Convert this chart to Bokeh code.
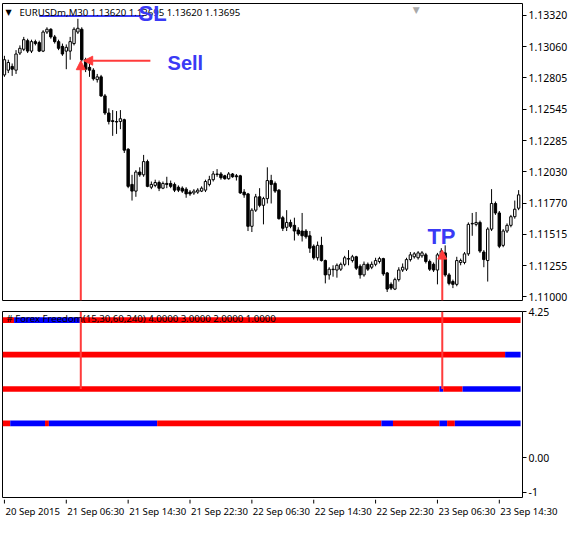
from bokeh.plotting import figure
from bokeh.layouts import column
from bokeh.models import (Range1d, FixedTicker, PrintfTickFormatter, Label, Arrow,
                          NormalHead, ColumnDataSource)
from bokeh.core.properties import value
from bokeh.embed import file_html
from bokeh.resources import INLINE

# ---------------- data (prices in points, 1 point = 0.00001) ----------------
opens_pts = [112827,112866,112897,112866,113007,113038,113109,113023,113101,113093,
             113023,113180,113203,113140,113101,113062,113023,113023,113085,113180,
             113203,112952,112889,112866,112788,112811,112654,112513,112450,112443,
             112443,112458,112215,111925,111870,112027,112004,112113,111902,111917,
             111941,111894,111933,111933,111925,111902,111894,111886,111862,111855,
             111862,111870,111878,111925,111964,112011,112011,111996,111972,112011,
             111996,111996,111862,111847,111580,111713,111823,111753,111808,111957,
             111933,111878,111651,111572,111612,111588,111549,111541,111541,111502,
             111416,111321,111423,111298,111180,111227,111220,111227,111267,111314,
             111298,111329,111251,111180,111267,111243,111267,111290,111314,111196,
             111102,111063,111141,111220,111227,111306,111329,111321,111337,111345,
             111290,111267,111220,111345,111361,111180,111125,111102,111282,111282,
             111353,111604,111596,111612,111368,111298,111557,111768,111690,111423,
             111541,111588,111659,111729]
highs_pts = [112984,112952,112921,113031,113070,113140,113125,113117,113117,113109,
             113195,113219,113211,113156,113117,113085,113078,113140,113219,113289,
             113219,112968,112921,112882,112835,112827,112670,112552,112537,112529,
             112537,112466,112223,112004,112043,112066,112168,112129,111949,111964,
             111957,111949,111988,111957,111941,111917,111909,111902,111878,111886,
             111894,111909,111964,111996,112035,112051,112027,112004,112027,112019,
             112011,112004,111886,111855,111729,111847,111894,111823,112066,112004,
             111949,111886,111666,111713,111635,111651,111572,111690,111557,111541,
             111431,111455,111494,111306,111243,111259,111274,111282,111337,111384,
             111345,111337,111267,111290,111282,111290,111321,111329,111321,111204,
             111118,111157,111243,111274,111321,111368,111368,111376,111376,111361,
             111306,111282,111361,111400,111423,111196,111141,111329,111314,111368,
             111612,111690,111698,111627,111384,111572,111886,111784,111706,111557,
             111604,111674,111792,111878]
lows_pts = [112811,112842,112819,112835,112991,113023,113007,113007,113070,113015,
            113015,113164,113125,113085,113031,112984,112874,112952,113070,113164,
            112936,112850,112811,112780,112764,112646,112497,112419,112325,112341,
            112380,112184,111894,111792,111823,111988,111988,111902,111886,111902,
            111870,111886,111894,111894,111862,111862,111855,111815,111831,111839,
            111847,111862,111862,111909,111949,111988,111964,111964,111964,111980,
            111957,111847,111815,111541,111533,111698,111737,111596,111768,111768,
            111855,111635,111541,111541,111564,111463,111502,111455,111478,111361,
            111306,111298,111290,111110,111141,111165,111157,111212,111251,111259,
            111282,111220,111149,111165,111212,111227,111251,111274,111172,111039,
            111055,111055,111125,111204,111212,111290,111314,111306,111321,111274,
            111212,111204,111102,111329,111165,111094,111071,111086,111259,111267,
            111337,111502,111580,111361,111243,111125,111541,111674,111400,111408,
            111525,111572,111643,111713]
closes_pts = [112952,112929,112874,112999,113046,113117,113023,113101,113085,113023,
              113180,113203,113140,113101,113046,112999,113054,113101,113203,113211,
              112952,112874,112866,112795,112811,112654,112513,112443,112443,112439,
              112466,112207,111909,111870,112027,112004,112113,111909,111925,111941,
              111894,111933,111925,111909,111878,111878,111870,111847,111847,111870,
              111878,111894,111949,111964,112011,112007,111980,111972,112011,111988,
              111988,111855,111839,111580,111713,111823,111753,111808,111957,111925,
              111870,111643,111564,111612,111580,111541,111517,111502,111494,111400,
              111321,111423,111298,111180,111227,111223,111259,111267,111321,111310,
              111329,111235,111180,111267,111227,111267,111298,111314,111188,111063,
              111071,111141,111220,111243,111306,111345,111353,111361,111361,111290,
              111227,111220,111345,111376,111180,111110,111102,111298,111298,111353,
              111596,111600,111612,111376,111306,111557,111768,111690,111416,111541,
              111588,111659,111721,111839]

price_ticks = [1.11000, 1.11255, 1.11515, 1.11770, 1.12030, 1.12285, 1.12545, 1.12805, 1.13060, 1.13320]
time_tick_bars = [0, 16, 32, 48, 64, 80, 96, 112, 128]
time_tick_labels = ["20 Sep 2015", "21 Sep 06:30", "21 Sep 14:30", "21 Sep 22:30", "22 Sep 06:30",
                    "22 Sep 14:30", "22 Sep 22:30", "23 Sep 06:30", "23 Sep 14:30"]

# Forex Freedom indicator: colour runs (colour, number of bars) on 4 levels
ind_levels = [4.0, 3.0, 2.0, 1.0]
ind_runs = [
    [("red", 3), ("blue", 17), ("red", 114)],
    [("red", 130), ("blue", 4)],
    [("red", 113), ("blue", 1), ("red", 5), ("blue", 15)],
    [("red", 2), ("blue", 9), ("red", 1), ("blue", 28), ("red", 58), ("blue", 3),
     ("red", 12), ("blue", 2), ("red", 2), ("blue", 17)],
]
ind_ticks = [-1, 0, 4.25]

# trade annotations
sell_bar, sell_price = 19.75, 1.12944
tp_bar, tp_price = 113.25, 1.11384
sl_price = 1.13313
title_text = "EURUSDm,M30  1.13620 1.13695 1.13620 1.13695"
ind_title = "# Forex Freedom(15,30,60,240) 4.0000 3.0000 2.0000 1.0000"

# ---------------- styling constants ----------------
FONT = "Noto Sans"
TICK_SIZE = "10.5px"
SMALL_SIZE = "9.6px"
RED_MT = "#ff0000"
BLUE_MT = "#0000ff"
ARROW_RED = "#ff3b3b"
TEXT_BLUE = "#3a3af5"
FRAME_W = 520
AXIS_W = 46

n = len(opens_pts)
xr = Range1d(-0.5, n)
px_per_bar = FRAME_W / (n + 0.5)
y_lo, y_hi = 1.10969, 1.13415

o = [v / 1e5 for v in opens_pts]
h = [v / 1e5 for v in highs_pts]
l = [v / 1e5 for v in lows_pts]
c = [v / 1e5 for v in closes_pts]
src = ColumnDataSource(dict(
    x=list(range(n)), h=h, l=l,
    top=[max(a, b) for a, b in zip(o, c)],
    bottom=[min(a, b) for a, b in zip(o, c)],
    fill=["white" if cc >= oo else "black" for oo, cc in zip(o, c)],
))


def style_axis(ax):
    ax.major_tick_out = 4
    ax.major_tick_in = 0
    ax.minor_tick_out = 0
    ax.minor_tick_in = 0
    ax.axis_line_color = None
    ax.major_tick_line_color = "black"
    ax.major_label_text_font = FONT
    ax.major_label_text_font_size = TICK_SIZE
    ax.major_label_text_color = "black"
    ax.major_label_standoff = 2


# ---------------- main price panel ----------------
p1 = figure(frame_width=FRAME_W, frame_height=297, x_range=xr, y_range=Range1d(y_lo, y_hi),
            x_axis_location=None, y_axis_location="right", toolbar_location=None,
            output_backend="svg", min_border_left=2, min_border_right=0,
            min_border_top=3, min_border_bottom=4)
p1.xgrid.visible = False
p1.ygrid.visible = False
p1.outline_line_color = "black"
p1.outline_line_width = 1
ya = p1.yaxis[0]
ya.ticker = FixedTicker(ticks=price_ticks)
ya.formatter = PrintfTickFormatter(format="%.5f")
style_axis(ya)

p1.segment(x0="x", y0="h", x1="x", y1="l", color="black", line_width=1, source=src)
p1.vbar(x="x", top="top", bottom="bottom", width=0.62, fill_color="fill",
        line_color="black", line_width=1, source=src)

# SL line and labels
p1.segment(x0=[9], y0=[sl_price], x1=[36], y1=[sl_price], line_color=TEXT_BLUE, line_width=2)
p1.add_layout(Label(x=-0.5, y=y_hi, x_offset=3, y_offset=-9, text="\u25bc", text_font="DejaVu Sans",
                    text_font_size="8px", text_color="black", text_baseline="middle"))
p1.add_layout(Label(x=-0.5, y=y_hi, x_offset=17, y_offset=-9, text=title_text, text_font=FONT,
                    text_font_size=SMALL_SIZE, text_color="black", text_baseline="middle"))
p1.add_layout(Label(x=106.5, y=y_hi, y_offset=-1, text="\u25bc", text_font="DejaVu Sans",
                    text_font_size="9px", text_color="#a8a8a8", text_baseline="top", text_align="center"))
p1.add_layout(Label(x=34.7, y=1.13329, text="SL", text_font="Liberation Sans", text_font_style="bold",
                    text_font_size="22px", text_color=TEXT_BLUE, text_baseline="middle"))
p1.add_layout(Label(x=42.2, y=1.12921, text="Sell", text_font="Liberation Sans", text_font_style="bold",
                    text_font_size="20px", text_color=TEXT_BLUE, text_baseline="middle"))
p1.add_layout(Label(x=109.4, y=1.11494, text="TP", text_font="Liberation Sans", text_font_style="bold",
                    text_font_size="22px", text_color=TEXT_BLUE, text_baseline="middle"))

# arrows
p1.add_layout(Arrow(end=NormalHead(size=9, fill_color=ARROW_RED, line_color=ARROW_RED),
                    x_start=37.75, y_start=sell_price, x_end=20.5, y_end=sell_price,
                    line_color=ARROW_RED, line_width=2))
p1.add_layout(Arrow(end=NormalHead(size=9, fill_color=ARROW_RED, line_color=ARROW_RED),
                    x_start=sell_bar, y_start=y_lo, x_end=sell_bar, y_end=sell_price,
                    line_color=ARROW_RED, line_width=2))
p1.add_layout(Arrow(end=NormalHead(size=9, fill_color=ARROW_RED, line_color=ARROW_RED),
                    x_start=tp_bar, y_start=y_lo, x_end=tp_bar, y_end=tp_price,
                    line_color=ARROW_RED, line_width=2))

# ---------------- indicator panel ----------------
p2 = figure(frame_width=FRAME_W, frame_height=186, x_range=xr, y_range=Range1d(-1.15, 4.25),
            x_axis_location=None, y_axis_location="right", toolbar_location=None,
            output_backend="svg", min_border_left=2, min_border_right=0,
            min_border_top=7, min_border_bottom=2)
p2.xgrid.visible = False
p2.ygrid.visible = False
p2.outline_line_color = "black"
p2.outline_line_width = 1
ya2 = p2.yaxis[0]
ya2.ticker = FixedTicker(ticks=ind_ticks)
ya2.major_label_overrides = {-1: "-1", 0: "0.00", 4.25: "4.25"}
style_axis(ya2)

for lev, runs in zip(ind_levels, ind_runs):
    start = 0
    lefts, rights, cols = [], [], []
    for col, cnt in runs:
        lefts.append(start - 0.5)
        rights.append(start + cnt - 0.5)
        cols.append(RED_MT if col == "red" else BLUE_MT)
        start += cnt
    p2.hbar(y=[lev] * len(cols), left=lefts, right=rights, height=0.165,
            fill_color=cols, line_color=None)

for xb in (sell_bar, tp_bar):
    p2.add_layout(Arrow(end=None, x_start=xb, y_start=4.25, x_end=xb, y_end=2.0,
                        line_color=ARROW_RED, line_width=2))

p2.add_layout(Label(x=-0.5, y=4.25, x_offset=4, y_offset=-7, text=ind_title, text_font=FONT,
                    text_font_size=SMALL_SIZE, text_color="black", text_baseline="middle"))

# ---------------- time axis strip (labels start at their tick, as in MT4) ----------------
strip_w = FRAME_W + AXIS_W
p3 = figure(frame_width=strip_w, frame_height=20,
            x_range=Range1d(-0.5, -0.5 + strip_w / px_per_bar), y_range=Range1d(0, 20),
            x_axis_location=None, y_axis_location=None, toolbar_location=None,
            output_backend="svg", min_border_left=2, min_border_right=0,
            min_border_top=0, min_border_bottom=0)
p3.outline_line_color = None
p3.xgrid.visible = False
p3.ygrid.visible = False
p3.segment(x0=time_tick_bars, y0=[20] * len(time_tick_bars), x1=time_tick_bars,
           y1=[16] * len(time_tick_bars), line_color="black", line_width=1)
p3.text(x=time_tick_bars, y=[15] * len(time_tick_bars), text=time_tick_labels,
        text_align="left", text_baseline="top", x_offset=1,
        text_font=value(FONT), text_font_size=value(SMALL_SIZE), text_color="black")

layout = column(p1, p2, p3, spacing=0)
open("out.html", "w").write(file_html(layout, INLINE))
